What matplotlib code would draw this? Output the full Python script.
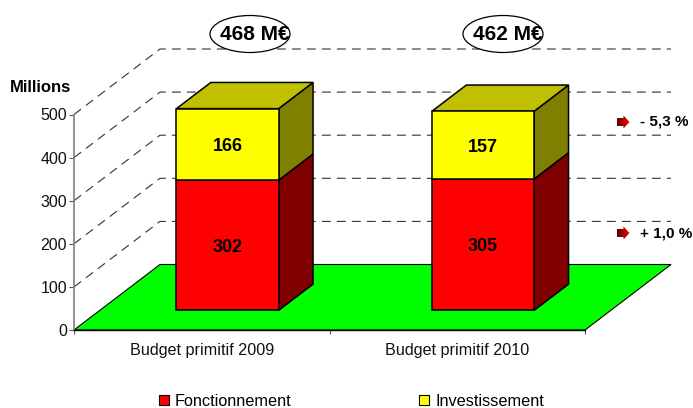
import matplotlib
matplotlib.use("Agg")
import matplotlib.pyplot as plt
import numpy as np
from matplotlib.patches import Ellipse, Polygon, Patch
from matplotlib.colors import LinearSegmentedColormap

# data
categories = ["Budget primitif 2009", "Budget primitif 2010"]
fonctionnement = [302, 305]
investissement = [166, 157]
totals = ["468 M€", "462 M€"]
y_ticks = [0, 100, 200, 300, 400, 500]
changes = ["- 5,3 %", "+ 1,0 %"]
legend_labels = ["Fonctionnement", "Investissement"]

plt.rcParams['font.family'] = ['Liberation Sans', 'DejaVu Sans']

W, H = 693, 408
AX_L, AX_R, AX_T, AX_B = 74, 585, 114.5, 330

fig = plt.figure(figsize=(W / 100, H / 100), dpi=100)
ax = fig.add_axes([AX_L / W, 1 - AX_B / H, (AX_R - AX_L) / W, (AX_B - AX_T) / H])
ax.set_xlim(-0.5, 1.5)
ax.set_ylim(0, 500)
ax.patch.set_visible(False)

px_x = (AX_R - AX_L) / 2
px_y = (AX_B - AX_T) / 500
# offset of the back wall, in data units
DX = 86 / px_x
DY = 65.5 / px_y


def proj(x, val, depth):
    return (x + depth * DX, val + depth * DY)


def pt(x, y):
    # picture pixels to data units, for the annotations
    return ((x - AX_L) / px_x - 0.5, (AX_B - y) / px_y)


# walls and floor
for t in y_ticks[1:]:
    a = proj(-0.5, t, 0)
    b = proj(-0.5, t, 1)
    c = proj(1.5, t, 1)
    ax.plot([a[0], b[0], c[0]], [a[1], b[1], c[1]], color='#333333', lw=0.8,
            dashes=(8, 5.5), clip_on=False, zorder=1)

floor = [proj(-0.5, 0, 0), proj(-0.5, 0, 1), proj(1.5, 0, 1), proj(1.5, 0, 0)]
ax.add_patch(Polygon(floor, closed=True, fc='#00ff00', ec='black', lw=0.8,
                     clip_on=False, zorder=2))

# bars
BAR_W = 0.4
D0, D1 = 0.3, 0.7


def box(x, low, high, front, side, top=None):
    x0, x1 = x - BAR_W / 2, x + BAR_W / 2
    kw = dict(closed=True, ec='black', lw=1.1, clip_on=False, zorder=3)
    ax.add_patch(Polygon([proj(x1, low, D0), proj(x1, low, D1), proj(x1, high, D1),
                          proj(x1, high, D0)], fc=side, **kw))
    if top is not None:
        ax.add_patch(Polygon([proj(x0, high, D0), proj(x0, high, D1), proj(x1, high, D1),
                              proj(x1, high, D0)], fc=top, **kw))
    ax.add_patch(Polygon([proj(x0, low, D0), proj(x1, low, D0), proj(x1, high, D0),
                          proj(x0, high, D0)], fc=front, **kw))


LABEL_DROP = 2 / px_y  # labels sit slightly under the middle of the bar
for i in range(len(categories)):
    f, v = fonctionnement[i], investissement[i]
    box(i, 0, f, '#ff0000', '#800000')
    box(i, f, f + v, '#ffff00', '#808000', '#c0c000')
    lx, ly = proj(i, f / 2, D0)
    ax.text(lx, ly - LABEL_DROP, str(f), ha='center', va='center', fontsize=13, fontweight='bold', zorder=5)
    lx, ly = proj(i, f + v / 2, D0)
    ax.text(lx, ly - LABEL_DROP, str(v), ha='center', va='center', fontsize=13, fontweight='bold', zorder=5)

# totals in their ellipses
for cx, label in zip([250, 503], totals):
    ax.add_patch(Ellipse(pt(cx, 34), 80 / px_x, 37 / px_y, fc='white', ec='black', lw=0.9,
                         clip_on=False, zorder=4))
    ax.text(*pt(cx + 5, 34.5), label, ha='center', va='center', fontsize=15, fontweight='bold', zorder=5)

# change labels with gradient arrows
cmap = LinearSegmentedColormap.from_list('arrow', ['#600000', '#ff0000'])
for cy, label in zip([122, 233], changes):
    shape = [pt(617, cy - 4), pt(623.5, cy - 4), pt(623.5, cy - 6.5), pt(629.5, cy),
             pt(623.5, cy + 6.5), pt(623.5, cy + 4), pt(617, cy + 4)]
    clip = Polygon(shape, closed=True, fc='none', ec='none', clip_on=False, zorder=4)
    ax.add_patch(clip)
    x0, y0 = pt(617, cy + 6.5)
    x1, y1 = pt(629.5, cy - 6.5)
    im = ax.imshow(np.linspace(0, 1, 32).reshape(1, -1), extent=(x0, x1, y0, y1), cmap=cmap,
                   aspect='auto', zorder=4)
    im.set_clip_box(fig.bbox)
    im.set_clip_path(clip)
    ax.text(*pt(640, cy), label, ha='left', va='center', fontsize=11, fontweight='bold', zorder=5)

ax.set_xlim(-0.5, 1.5)
ax.set_ylim(0, 500)

# axes
ax.spines['top'].set_visible(False)
ax.spines['right'].set_visible(False)
ax.spines['left'].set_color('#808080')
ax.spines['left'].set_linewidth(1.2)
ax.spines['bottom'].set_linewidth(1.0)
ax.spines['left'].set_zorder(6)
ax.spines['bottom'].set_zorder(6)
ax.set_yticks(y_ticks)
ax.tick_params(axis='y', labelsize=11.5, length=3.6, width=0.8, color='#555555', pad=1.5, labelcolor='#111111')
ax.set_xticks([-0.5, 0.5, 1.5])
ax.set_xticklabels([])
ax.tick_params(axis='x', which='major', length=3, width=0.8, color='#555555')
ax.set_xticks([0, 1], minor=True)
ax.set_xticklabels(categories, minor=True)
ax.tick_params(axis='x', which='minor', length=0, labelsize=11.6, pad=9, labelcolor='#111111')

ax.text(*pt(10, 87), "Millions", ha='left', va='center', fontsize=12, fontweight='bold')

# legend
handles = [Patch(fc='#ff0000', ec='black', lw=0.8), Patch(fc='#ffff00', ec='black', lw=0.8)]
ax.legend(handles, legend_labels, ncol=2, frameon=False, fontsize=11.7, handlelength=0.6, handleheight=0.6,
          handletextpad=0.4, columnspacing=7.85, loc='center', bbox_to_anchor=pt(351.5, 401.5),
          bbox_transform=ax.transData, borderpad=0, borderaxespad=0)

fig.savefig("out.png", dpi=100)
plt.close(fig)
